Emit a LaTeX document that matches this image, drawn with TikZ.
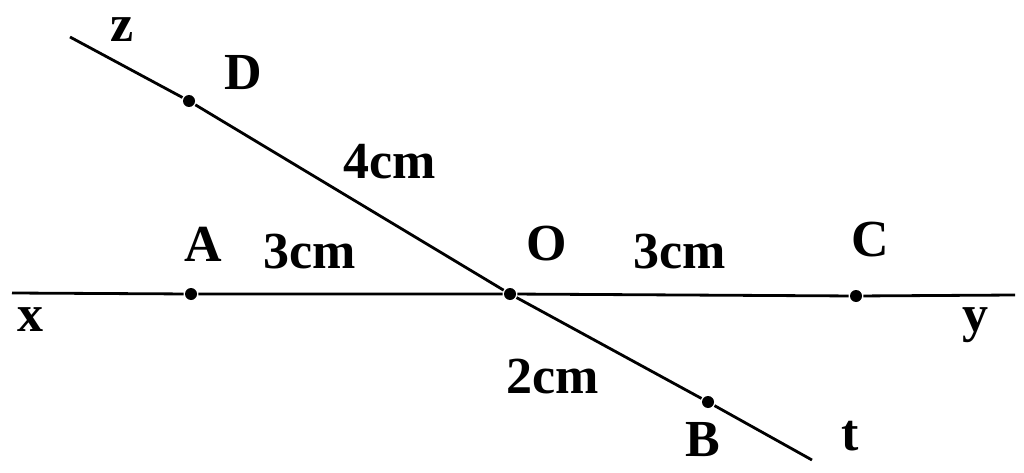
\documentclass[tikz,border=0pt]{standalone}
\usepackage{fontspec}
\setmainfont{Liberation Serif}
\usepackage{tikz}

\begin{document}
\begin{tikzpicture}[
    x=1pt, y=-1pt,           % pixel-like units
    line width=2.8pt,
    pt/.style={circle, fill, inner sep=0pt, minimum size=12pt},
    lbl/.style={font=\fontsize{52}{52}\selectfont\bfseries, inner sep=0pt}]
    \useasboundingbox (0,0) rectangle (1024,473);
    % Ends of the lines
    \coordinate (x) at (12,293);
    \coordinate (y) at (1015,295);
    \coordinate (z) at (70,37);
    \coordinate (t) at (812,460);

    % Points
    \node[pt] (A) at (191,294) {};
    \node[pt] (O) at (510,294) {};
    \node[pt] (C) at (856,296) {};
    \node[pt] (D) at (189,101) {};
    \node[pt] (B) at (708,402) {};

    % Lines
    \draw (x) -- (A) -- (O) -- (C) -- (y);
    \draw (z) -- (D) -- (O) -- (B) -- (t);

    % Labels
    \node[lbl] (lz) at (122,30) {z};
    \node[lbl] (lD) at (243,73) {D};
    \node[lbl] (lDO) at (390,162) {4cm};
    \node[lbl] (lA) at (203,244) {A};
    \node[lbl] (lAO) at (310,252) {3cm};
    \node[lbl] (lO) at (547,244) {O};
    \node[lbl] (lOC) at (680,252) {3cm};
    \node[lbl] (lC) at (870,240) {C};
    \node[lbl] (lx) at (30,320) {x};
    \node[lbl] (ly) at (975,325) {y};
    \node[lbl] (lOB) at (553,377) {2cm};
    \node[lbl] (lB) at (703,440) {B};
    \node[lbl] (lt) at (850,436) {t};
\end{tikzpicture}
\end{document}
